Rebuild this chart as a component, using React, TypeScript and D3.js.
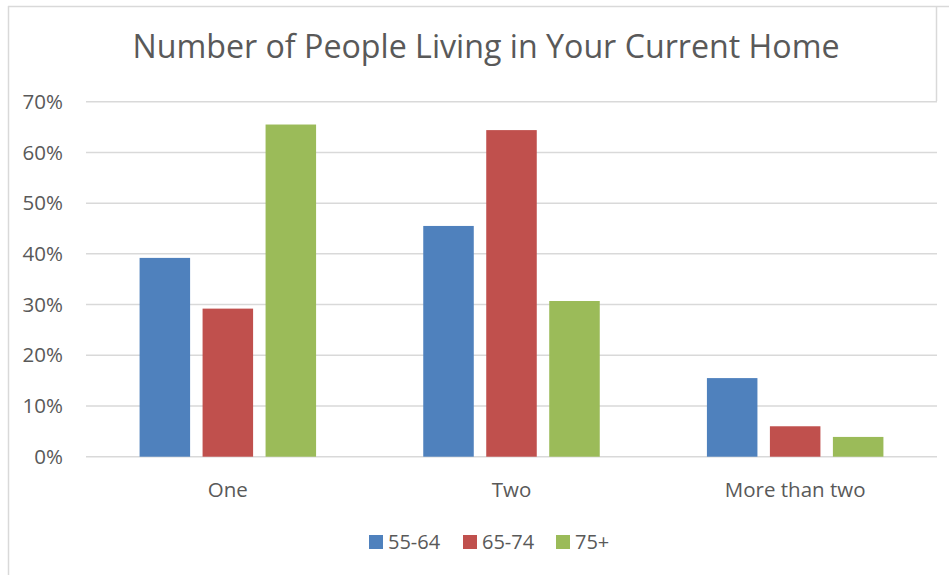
import React from "react";
import * as d3 from "d3";

const categories = ["One", "Two", "More than two"];
const series = ["55-64", "65-74", "75+"];
const values55_64 = [0.392, 0.455, 0.155];
const values65_74 = [0.292, 0.644, 0.06];
const values75plus = [0.655, 0.307, 0.039];
const yTicks = [0, 0.1, 0.2, 0.3, 0.4, 0.5, 0.6, 0.7];
const colors = ["#4F81BD", "#C0504D", "#9BBB59"];

const W = 949;
const H = 575;
const FONT = "'Open Sans', 'Liberation Sans', sans-serif";
const TXT = "#595959";

export default function App() {
  const allValues = [values55_64, values65_74, values75plus];
  const x = d3.scaleBand<string>().domain(categories).range([86, 937]).paddingInner(0).paddingOuter(0);
  const y = d3.scaleLinear().domain([0, 0.7]).range([456.7, 101.7]);
  const groupHalf = 88.25;
  const fmt = d3.format(".0%");

  return (
    <svg width={W} height={H} style={{ position: "absolute", left: 0, top: 0 }} xmlns="http://www.w3.org/2000/svg">
      <rect x={0} y={0} width={W} height={H} fill="#ffffff" />
      {/* chart border */}
      <line x1={8.5} y1={6} x2={8.5} y2={H} stroke="#D9D9D9" strokeWidth={1.5} />
      <line x1={8} y1={6.5} x2={W} y2={6.5} stroke="#D9D9D9" strokeWidth={1.5} />
      <line x1={936.5} y1={6} x2={936.5} y2={101} stroke="#D9D9D9" strokeWidth={1.5} />

      <text x={486} y={58} textAnchor="middle" fontFamily={FONT} fontSize={32.2} fill={TXT}>
        Number of People Living in Your Current Home
      </text>

      {yTicks.map((t) => (
        <g key={t}>
          <line x1={86} x2={937} y1={y(t)} y2={y(t)} stroke="#D9D9D9" strokeWidth={1.5} />
          <text x={63} y={y(t)} dy="0.35em" textAnchor="end" fontFamily={FONT} fontSize={20.5} fill={TXT}>
            {fmt(t)}
          </text>
        </g>
      ))}

      {categories.map((c, ci) => {
        const cx = (x(c) as number) + x.bandwidth() / 2;
        const inner = d3
          .scaleBand<string>()
          .domain(series)
          .range([cx - groupHalf, cx + groupHalf])
          .paddingInner(0.198)
          .paddingOuter(0);
        return (
          <g key={c}>
            {series.map((s, si) => {
              const v = allValues[si][ci];
              return (
                <rect
                  key={s}
                  x={inner(s)}
                  y={y(v)}
                  width={inner.bandwidth()}
                  height={y(0) - y(v)}
                  fill={colors[si]}
                />
              );
            })}
            <text x={cx} y={496.5} textAnchor="middle" fontFamily={FONT} fontSize={20.5} fill={TXT}>
              {c}
            </text>
          </g>
        );
      })}

      {series.map((s, si) => {
        const lx = [369, 463, 556][si];
        return (
          <g key={s}>
            <rect x={lx} y={535} width={14} height={14} fill={colors[si]} />
            <text x={lx + 19} y={542} dy="0.35em" fontFamily={FONT} fontSize={20} fill={TXT}>
              {s}
            </text>
          </g>
        );
      })}
    </svg>
  );
}
